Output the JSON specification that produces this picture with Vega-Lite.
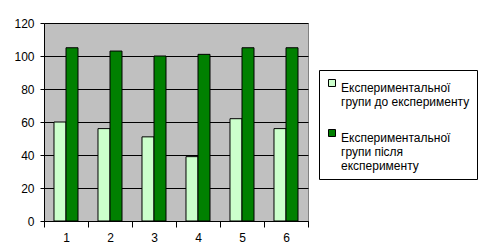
{
  "$schema": "https://vega.github.io/schema/vega-lite/v6.json",
  "autosize": {"type": "none"},
  "width": 264,
  "height": 198,
  "padding": {"left": 44, "top": 23, "right": 176, "bottom": 30},
  "background": "#ffffff",
  "config": {
    "font": "Liberation Sans",
    "view": {"fill": "#C0C0C0", "stroke": "#808080", "strokeWidth": 1}
  },
  "data": {
    "values": [
      {"cat": "1", "group": "Експериментальної|групи до експерименту", "value": 60},
      {"cat": "1", "group": "Експериментальної|групи після|експерименту", "value": 105},
      {"cat": "2", "group": "Експериментальної|групи до експерименту", "value": 56},
      {"cat": "2", "group": "Експериментальної|групи після|експерименту", "value": 103},
      {"cat": "3", "group": "Експериментальної|групи до експерименту", "value": 51},
      {"cat": "3", "group": "Експериментальної|групи після|експерименту", "value": 100},
      {"cat": "4", "group": "Експериментальної|групи до експерименту", "value": 39},
      {"cat": "4", "group": "Експериментальної|групи після|експерименту", "value": 101},
      {"cat": "5", "group": "Експериментальної|групи до експерименту", "value": 62},
      {"cat": "5", "group": "Експериментальної|групи після|експерименту", "value": 105},
      {"cat": "6", "group": "Експериментальної|групи до експерименту", "value": 56},
      {"cat": "6", "group": "Експериментальної|групи після|експерименту", "value": 105}
    ]
  },
  "mark": {"type": "bar", "stroke": "#000000", "strokeWidth": 1},
  "encoding": {
    "x": {
      "field": "cat", "type": "nominal",
      "scale": {"paddingInner": 0, "paddingOuter": 0},
      "axis": {
        "title": null, "labelAngle": 0, "tickBand": "extent",
        "domainColor": "#000000", "tickColor": "#000000", "tickSize": 6,
        "labelFontSize": 12, "labelColor": "#000000", "labelPadding": 5,
        "labelFont": "Liberation Sans"
      }
    },
    "xOffset": {
      "field": "group", "type": "nominal",
      "scale": {"paddingInner": 0, "paddingOuter": 0.833}
    },
    "y": {
      "field": "value", "type": "quantitative",
      "scale": {"domain": [0, 120]},
      "axis": {
        "title": null, "values": [0, 20, 40, 60, 80, 100, 120],
        "grid": true, "gridColor": "#000000", "gridOpacity": 1,
        "domainColor": "#000000", "tickColor": "#000000", "tickSize": 4,
        "labelFontSize": 12, "labelColor": "#000000", "labelPadding": 6,
        "labelFont": "Liberation Sans"
      }
    },
    "color": {
      "field": "group", "type": "nominal",
      "scale": {"range": ["#CCFFCC", "#008000"]},
      "legend": {
        "title": null, "orient": "none", "legendX": 275, "legendY": 47,
        "labelExpr": "split(datum.label, '|')",
        "labelFontSize": 12, "labelColor": "#000000", "labelFont": "Liberation Sans",
        "labelLimit": 300, "labelBaseline": "top", "labelOffset": 3,
        "symbolType": "square", "symbolSize": 49, "symbolStrokeColor": "#000000", "symbolStrokeWidth": 1,
        "strokeColor": "#000000", "padding": 7, "rowPadding": 19,
        "fillColor": "#ffffff"
      }
    }
  }
}
